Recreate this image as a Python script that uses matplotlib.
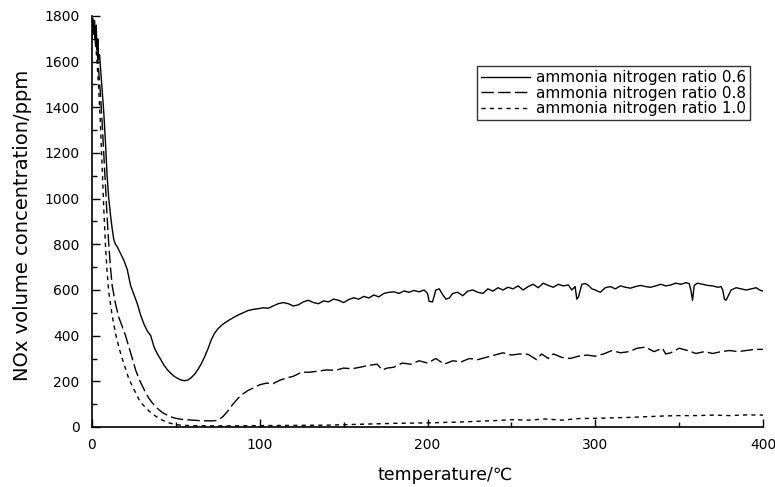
import matplotlib
matplotlib.use("Agg")
import matplotlib.pyplot as plt
from matplotlib.ticker import MultipleLocator

plt.rcParams['font.family'] = ['DejaVu Sans']

labels = ["ammonia nitrogen ratio 0.6", "ammonia nitrogen ratio 0.8", "ammonia nitrogen ratio 1.0"]

x06 = [0, 0.5, 1, 1.5, 2, 2.5, 3, 3.5, 4, 4.5, 5, 6, 7, 8, 9, 10, 11, 12, 13, 14, 15, 17, 19, 21, 23, 25,
       27, 29, 31, 33, 35, 37, 39, 41, 43, 45, 47, 49, 51, 53, 55, 57, 59, 61, 63, 65, 67, 69, 71, 73, 75,
       78, 81, 84, 87, 90, 93, 96, 99, 102, 105, 108, 111, 114, 117, 120, 123, 126, 129, 132,
       135, 138, 141, 144, 147, 150, 153, 156, 159, 162, 165, 168, 171, 174, 177, 180, 183, 186, 189,
       192, 195, 198, 200, 201, 203, 205, 207, 209, 211, 213, 215, 218, 221, 224, 227, 230, 233, 236,
       239, 242, 245, 248, 251, 254, 257, 260, 263, 266, 269, 272, 275, 278, 281, 284, 286, 288, 289,
       290, 292, 294, 296, 298, 300, 303, 306, 309, 312, 315, 318, 321, 324, 327, 330, 333, 336, 339,
       342, 345, 348, 351, 354, 356, 357, 358, 359, 361, 364, 367, 370, 373, 375, 376, 377, 378, 379,
       381, 384, 387, 390, 393, 396, 398, 400]
y06 = [1700, 1790, 1720, 1780, 1680, 1760, 1650, 1700, 1610, 1630, 1580, 1480, 1380, 1250, 1100, 1000, 930,
       870, 820, 800, 790, 760, 730, 690, 620, 580, 540, 490, 450, 420, 400, 350, 320, 295, 270, 250,
       235, 222, 213, 206, 203, 205, 215, 230, 250, 275, 305, 340, 380, 410, 430,
       450, 465, 478, 490, 500, 510, 515, 518, 522, 520, 530, 540, 545, 540, 530, 535, 548, 555, 545,
       540, 552, 548, 560, 555, 545, 558, 566, 560, 572, 565, 578, 570, 585, 590, 592, 585, 596, 590,
       598, 592, 600, 585, 550, 548, 600, 605, 580, 560, 565, 585, 590, 575, 595, 600, 590, 585, 605,
       595, 610, 600, 612, 605, 618, 600, 615, 625, 610, 630, 620, 612, 625, 618, 622, 600, 615, 560,
       570, 625, 628, 620, 605, 600, 590, 610, 615, 605, 618, 612, 608, 615, 620, 615, 612, 618, 625,
       618, 622, 630, 625, 632, 628, 600, 555, 620, 630, 625, 620, 618, 612, 615, 600, 560, 555, 570,
       600, 610, 605, 600, 605, 610, 600, 595]

x08 = [0, 1, 2, 3, 4, 5, 6, 7, 8, 9, 10, 11, 12, 13, 14, 16, 18, 20, 22, 24, 26, 28, 30, 32, 34, 36, 38,
       40, 42, 44, 46, 48, 50, 53, 56, 60, 64, 68, 72, 75, 78, 81, 84, 87, 90, 93, 96, 100, 104, 108,
       112, 116, 120, 125, 130, 135, 140, 145, 150, 155, 160, 165, 170, 173, 176, 180, 185, 190, 195,
       200, 205, 210, 215, 220, 225, 230, 235, 240, 245, 250, 255, 260, 265, 268, 272, 275, 280, 285,
       290, 295, 300, 305, 310, 315, 320, 325, 330, 335, 340, 342, 345, 350, 355, 360, 365, 370, 375,
       380, 385, 390, 395, 400]
y08 = [1790, 1760, 1720, 1650, 1560, 1460, 1340, 1200, 1060, 920, 800, 700, 620, 580, 540, 480, 440, 400,
       350, 300, 250, 210, 180, 150, 125, 105, 88, 75, 63, 55, 48, 42, 38, 34, 32, 30, 28, 27, 27, 29,
       45, 70, 100, 125, 145, 160, 170, 185, 192, 190, 205, 215, 222, 240, 240, 245, 250, 248, 258,
       255, 262, 270, 275, 250, 258, 262, 280, 275, 290, 280, 300, 275, 290, 285, 300, 295, 305, 315,
       325, 315, 320, 318, 295, 320, 300, 320, 305, 300, 310, 315, 310, 320, 335, 325, 330, 345, 350,
       330, 345, 320, 325, 345, 335, 322, 330, 322, 330, 335, 330, 335, 340, 340]

x10 = [0, 1, 2, 3, 4, 5, 6, 7, 8, 9, 10, 12, 14, 16, 18, 20, 22, 24, 26, 28, 30, 32, 34, 36, 38, 40, 42,
       44, 46, 48, 50, 55, 60, 70, 80, 90, 100, 120, 140, 150, 160, 170, 180, 190, 200, 210, 220, 230,
       240, 250, 260, 270, 280, 290, 300, 310, 320, 330, 340, 350, 360, 370, 380, 390, 400]
y10 = [1790, 1750, 1690, 1600, 1480, 1330, 1150, 960, 800, 680, 590, 490, 410, 350, 300, 255, 210, 180,
       150, 120, 100, 85, 70, 58, 47, 38, 30, 23, 18, 14, 10, 7, 6, 5, 5, 5, 6, 7, 8, 10, 12, 14, 16,
       17, 18, 20, 22, 25, 28, 32, 30, 35, 30, 37, 38, 40, 42, 45, 48, 50, 50, 52, 50, 53, 52]

xticks = [0, 100, 200, 300, 400]
yticks = [0, 200, 400, 600, 800, 1000, 1200, 1400, 1600, 1800]

fig = plt.figure(figsize=(7.75, 4.87), dpi=100)
ax = fig.add_axes([92/775, 1-427/487, (763-92)/775, (427-16)/487])

ax.plot(x06, y06, color='black', lw=1.0, ls='-', label=labels[0])
ax.plot(x08, y08, color='black', lw=1.0, ls=(0, (9, 3)), label=labels[1])
ax.plot(x10, y10, color='black', lw=1.0, ls=(0, (3, 3)), label=labels[2])

ax.set_xlim(0, 400)
ax.set_ylim(0, 1800)
ax.set_xticks(xticks)
ax.set_yticks(yticks)
ax.xaxis.set_minor_locator(MultipleLocator(50))
ax.yaxis.set_minor_locator(MultipleLocator(100))
ax.tick_params(which='major', direction='in', length=6, width=1, labelsize=10)
ax.tick_params(which='minor', direction='in', length=3.5, width=1)
ax.tick_params(axis='x', pad=8)
ax.tick_params(axis='y', pad=9)
for s in ['top', 'right']:
    ax.spines[s].set_visible(False)
for s in ['left', 'bottom']:
    ax.spines[s].set_linewidth(1.2)

ax.set_xlabel("temperature/℃", fontsize=12.5)
ax.set_ylabel("NOx volume concentration/ppm", fontsize=14)
ax.xaxis.set_label_coords(0.526, -0.095)
ax.yaxis.set_label_coords(-0.089, 0.49)

leg = ax.legend(loc='upper right', bbox_to_anchor=(0.981, 0.878), fontsize=11, frameon=True,
                fancybox=False, edgecolor='black', handlelength=3.2, borderpad=0.25,
                labelspacing=0.05, handletextpad=0.4, borderaxespad=0)
leg.get_frame().set_linewidth(1.0)

fig.savefig("out.png", dpi=100)
